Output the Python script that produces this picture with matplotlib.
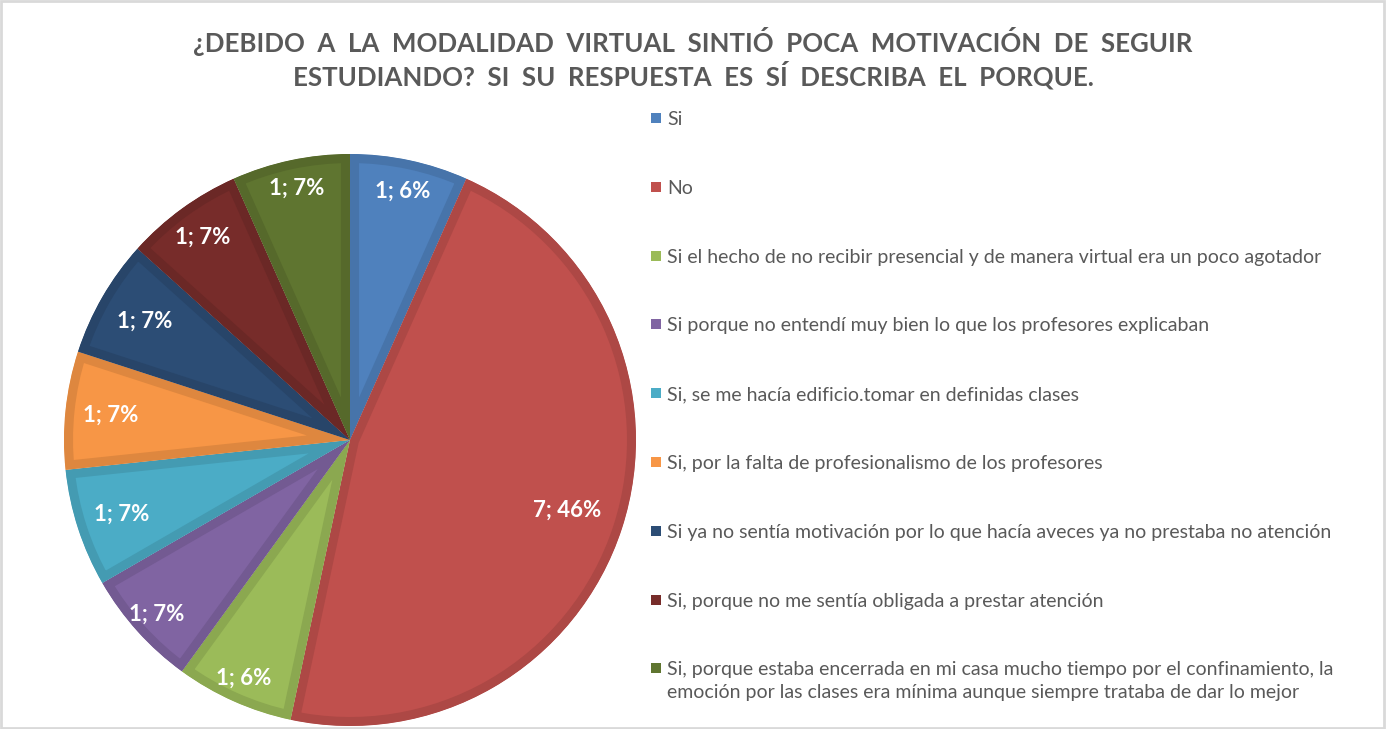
import matplotlib.pyplot as plt
from matplotlib.patches import Rectangle
from matplotlib.colors import to_rgb

# datos del gráfico
categorias = [
    "Si",
    "No",
    "Si el hecho de no recibir presencial y de manera virtual era un poco agotador",
    "Si porque no entendí muy bien lo que los profesores explicaban",
    "Si, se me hacía edificio.tomar en definidas clases",
    "Si, por la falta de profesionalismo de los profesores",
    "Si ya no sentía motivación por lo que hacía aveces ya no prestaba no atención",
    "Si, porque no me sentía obligada a prestar atención",
    "Si, porque estaba encerrada en mi casa mucho tiempo por el confinamiento, la\nemoción por las clases era mínima aunque siempre trataba de dar lo mejor",
]
valores = [1, 7, 1, 1, 1, 1, 1, 1, 1]
porcentajes = ["6%", "46%", "6%", "7%", "7%", "7%", "7%", "7%", "7%"]

titulo1 = "¿DEBIDO A LA MODALIDAD VIRTUAL SINTIÓ POCA MOTIVACIÓN DE SEGUIR"
titulo2 = "ESTUDIANDO? SI SU RESPUESTA ES SÍ DESCRIBA EL PORQUE."

colores = ["#4F81BD", "#C0504D", "#9BBB59", "#8064A2", "#4BACC6",
           "#F79646", "#2C4D75", "#772C2A", "#5F7530"]
# distancia de cada etiqueta al centro (como la pone Excel)
dist_etiquetas = [0.89, 0.80, 0.91, 0.91, 0.84, 0.84, 0.83, 0.875, 0.90]
gris = "#595959"
fuente = "Lato"

W, H = 1387, 729
fig = plt.figure(figsize=(W / 100, H / 100), dpi=100)

# marco gris claro
fig.patches.append(Rectangle((0.001, 0.002), 0.997, 0.996, transform=fig.transFigure,
                             fill=False, edgecolor="#D9D9D9", linewidth=2))

# título con palabras espaciadas
fig.text(693 / W, 1 - 42 / H, "  ".join(titulo1.split()), ha="center", va="center",
         fontsize=18.6, fontweight="bold", color=gris, family=fuente)
fig.text(693 / W, 1 - 75 / H, "  ".join(titulo2.split()), ha="center", va="center",
         fontsize=18.6, fontweight="bold", color=gris, family=fuente)

# gráfico circular
cx, cy, r = 350, 440, 286
ax = fig.add_axes([(cx - r) / W, (H - cy - r) / H, 2 * r / W, 2 * r / H])
etiquetas = iter([f"{v}; {p}" for v, p in zip(valores, porcentajes)])
wedges, textos, autotextos = ax.pie(
    valores, colors=colores, startangle=90, counterclock=False, radius=1,
    autopct=lambda pct: next(etiquetas), pctdistance=1.0,
    textprops=dict(color="white", fontweight="bold", fontsize=16, family=fuente))
for w, c in zip(wedges, colores):
    oscuro = tuple(x * 0.9 for x in to_rgb(c))
    w.set_edgecolor(oscuro)
    w.set_linewidth(13)
    w.set_clip_on(True)
    w.set_clip_path(w)
# cada etiqueta a su distancia
for t, d in zip(autotextos, dist_etiquetas):
    x, y = t.get_position()
    t.set_position((x * d, y * d))
ax.set_xlim(-1, 1)
ax.set_ylim(-1, 1)
ax.axis("off")

# leyenda a mano
y0, paso = 118, 68.8
for i, (cat, c) in enumerate(zip(categorias, colores)):
    y = y0 + i * paso
    fig.patches.append(Rectangle((651 / W, 1 - (y + 5) / H), 10 / W, 10 / H,
                                 transform=fig.transFigure, facecolor=c, edgecolor="none"))
    for j, linea in enumerate(cat.split("\n")):
        fig.text(667 / W, 1 - (y + 7 + 23 * j) / H, linea, ha="left", va="baseline",
                 fontsize=14, color=gris, family=fuente)

fig.savefig("out.png", dpi=100)
